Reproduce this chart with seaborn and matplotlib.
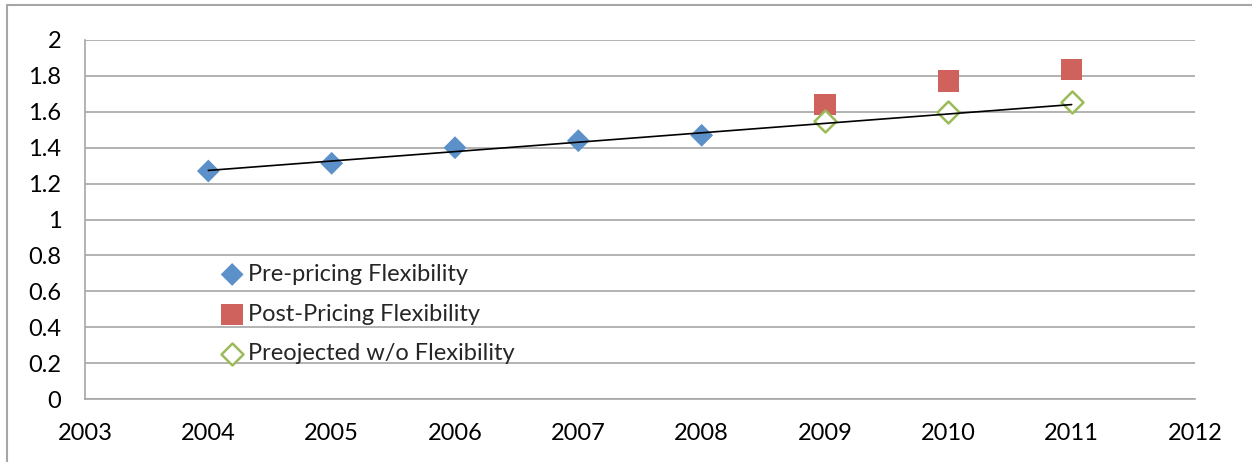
import numpy as np
import pandas as pd
import matplotlib
matplotlib.use("Agg")
import matplotlib.pyplot as plt
import matplotlib.patches as mpatches
import seaborn as sns

# values
pre_years = [2004, 2005, 2006, 2007, 2008]
pre_values = [1.27, 1.313, 1.40, 1.439, 1.469]

post_years = [2009, 2010, 2011]
post_values = [1.642, 1.773, 1.835]

proj_years = [2009, 2010, 2011]
proj_values = [1.55, 1.597, 1.653]

x_ticks = list(range(2003, 2013))
y_ticks = [0, 0.2, 0.4, 0.6, 0.8, 1, 1.2, 1.4, 1.6, 1.8, 2]

pre_df = pd.DataFrame({'Year': pre_years, 'Value': pre_values})
post_df = pd.DataFrame({'Year': post_years, 'Value': post_values})
proj_df = pd.DataFrame({'Year': proj_years, 'Value': proj_values})

# linear trend of the pre-pricing points, extended to the last year
slope, intercept = np.polyfit(pre_years, pre_values, 1)
trend_years = [pre_years[0], proj_years[-1]]
trend_df = pd.DataFrame({'Year': trend_years,
                         'Value': [slope * y + intercept for y in trend_years]})

sns.set_style("white")
plt.rcParams['font.family'] = ['Lato', 'DejaVu Sans']

grid_col = '#A6A6A6'
fig = plt.figure(figsize=(12.52, 4.62), dpi=100)
ax = fig.add_axes([85 / 1252, 63 / 462, 1110 / 1252, 359 / 462])

sns.scatterplot(data=pre_df, x='Year', y='Value', marker='D', s=135,
                color='#5B90C8', edgecolor='none', label='Pre-pricing Flexibility',
                ax=ax, zorder=3)
sns.scatterplot(data=post_df, x='Year', y='Value', marker='s', s=240,
                color='#D0625E', edgecolor='none', label='Post-Pricing Flexibility',
                ax=ax, zorder=3)
sns.scatterplot(data=proj_df, x='Year', y='Value', marker='D', s=125,
                facecolor='white', edgecolor='#9BBB59', linewidth=1.8,
                label='Preojected w/o Flexibility', ax=ax, zorder=3)
sns.lineplot(data=trend_df, x='Year', y='Value', color='black', linewidth=1.2,
             ax=ax, zorder=4)

ax.set_xlim(2003, 2012)
ax.set_ylim(0, 2)
ax.set_xticks(x_ticks)
ax.set_yticks(y_ticks)
ax.set_yticklabels([f"{v:g}" for v in y_ticks])
ax.set_xlabel('')
ax.set_ylabel('')

ax.yaxis.grid(True, color=grid_col, linewidth=1.2)
ax.xaxis.grid(False)
ax.set_axisbelow(True)
for side in ['top', 'right']:
    ax.spines[side].set_visible(False)
for side in ['left', 'bottom']:
    ax.spines[side].set_color(grid_col)
    ax.spines[side].set_linewidth(1.2)
ax.tick_params(axis='y', length=6, width=1.2, color=grid_col, pad=11,
               labelsize=17, labelcolor='black')
ax.tick_params(axis='x', length=5, width=1.2, color=grid_col, pad=12,
               labelsize=17, labelcolor='black')

leg = ax.legend(loc='upper left', bbox_to_anchor=(0.123, 0.377), frameon=False,
                fontsize=17, handlelength=0.9, handletextpad=0.2,
                labelspacing=0.8, borderpad=0, borderaxespad=0)

# chart area border (cropped on the right and bottom)
fig.patches.append(mpatches.Rectangle((7 / 1252, -0.1), 1.2, 1.1 - 5 / 462,
                                      transform=fig.transFigure, fill=False,
                                      edgecolor=grid_col, linewidth=1.5))

fig.savefig('out.png', dpi=100)
